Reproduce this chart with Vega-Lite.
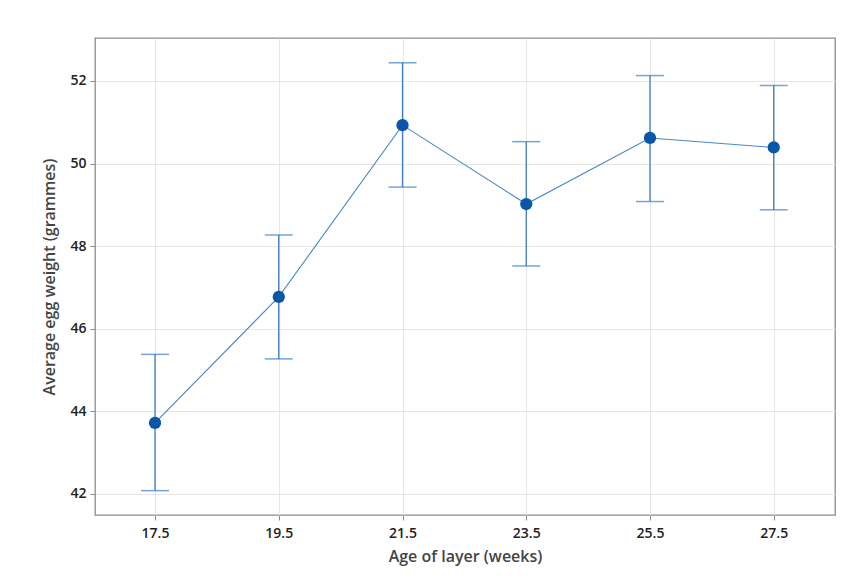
{
  "$schema": "https://vega.github.io/schema/vega-lite/v6.json",
  "autosize": {"type": "none"},
  "padding": {"left": 95, "top": 38, "right": 26, "bottom": 65},
  "width": 740,
  "height": 477,
  "background": "white",
  "config": {
    "font": "Open Sans",
    "view": {"stroke": "#8c8c8c", "strokeWidth": 1.3},
    "axis": {
      "grid": true,
      "gridColor": "#e6e6e6",
      "gridWidth": 1,
      "domain": false,
      "tickColor": "#8c8c8c",
      "tickSize": 5,
      "labelFont": "Open Sans",
      "labelFontSize": 14,
      "labelFontWeight": 600,
      "labelColor": "#222222",
      "titleFont": "Open Sans",
      "titleFontSize": 16,
      "titleFontWeight": 600,
      "titleColor": "#444444"
    }
  },
  "data": {
    "values": [
      {"age": 17.5, "mean": 43.72, "lo": 42.08, "hi": 45.38},
      {"age": 19.5, "mean": 46.77, "lo": 45.27, "hi": 48.27},
      {"age": 21.5, "mean": 50.93, "lo": 49.43, "hi": 52.44},
      {"age": 23.5, "mean": 49.02, "lo": 47.52, "hi": 50.53},
      {"age": 25.5, "mean": 50.62, "lo": 49.08, "hi": 52.13},
      {"age": 27.5, "mean": 50.39, "lo": 48.88, "hi": 51.89}
    ]
  },
  "encoding": {
    "x": {
      "field": "age",
      "type": "quantitative",
      "scale": {"domain": [16.53, 28.49], "nice": false, "zero": false},
      "axis": {"values": [17.5, 19.5, 21.5, 23.5, 25.5, 27.5], "format": ".1f", "title": "Age of layer (weeks)", "labelPadding": 6, "titlePadding": 8}
    }
  },
  "layer": [
    {
      "mark": {"type": "rule", "color": "#3b7cc4", "strokeWidth": 1.3},
      "encoding": {
        "y": {"field": "lo", "type": "quantitative",
          "scale": {"domain": [41.49, 53.04], "nice": false, "zero": false},
          "axis": {"values": [42, 44, 46, 48, 50, 52], "title": "Average egg weight (grammes)", "labelPadding": 4, "titlePadding": 12}},
        "y2": {"field": "hi"}
      }
    },
    {
      "mark": {"type": "tick", "orient": "horizontal", "color": "#3b7cc4", "size": 28, "thickness": 1.5},
      "encoding": {"y": {"field": "lo", "type": "quantitative"}}
    },
    {
      "mark": {"type": "tick", "orient": "horizontal", "color": "#3b7cc4", "size": 28, "thickness": 1.5},
      "encoding": {"y": {"field": "hi", "type": "quantitative"}}
    },
    {
      "mark": {"type": "line", "color": "#4a86c8", "strokeWidth": 1.1},
      "encoding": {"y": {"field": "mean", "type": "quantitative"}}
    },
    {
      "mark": {"type": "point", "filled": true, "opacity": 1, "color": "#0a56a8", "size": 150},
      "encoding": {"y": {"field": "mean", "type": "quantitative"}}
    }
  ]
}
